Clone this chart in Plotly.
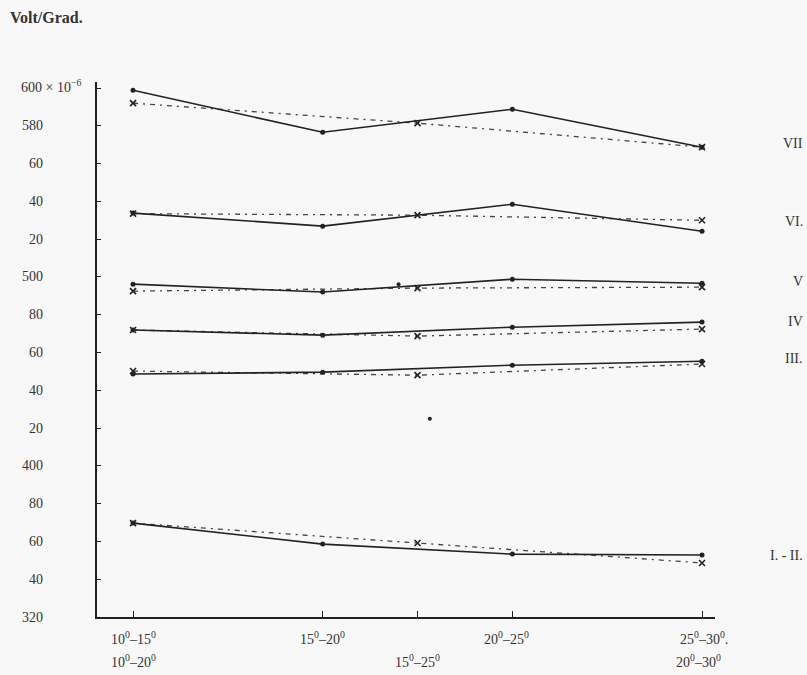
import plotly.graph_objects as go

# ---- data -------------------------------------------------------------
solid_pos = [0, 2, 4, 6]          # 10-15, 15-20, 20-25, 25-30
dashed_pos = [0, 3, 6]            # 10-20, 15-25, 20-30
solid_labels = ["10<sup>0</sup>–15<sup>0</sup>", "15<sup>0</sup>–20<sup>0</sup>",
                "20<sup>0</sup>–25<sup>0</sup>", "25<sup>0</sup>–30<sup>0</sup>."]
dashed_labels = ["10<sup>0</sup>–20<sup>0</sup>", "15<sup>0</sup>–25<sup>0</sup>",
                 "20<sup>0</sup>–30<sup>0</sup>"]

series_names = ["VII", "VI.", "V", "IV", "III.", "I. - II."]

vii_solid = [598.8, 576.6, 588.8, 568.7]
vii_dashed = [592.0, 581.4, 568.7]
vi_solid = [533.8, 526.9, 538.5, 524.2]
vi_dashed = [533.5, 532.7, 530.0]
v_solid = [496.2, 492.0, 498.8, 496.7]
v_dashed = [492.5, 494.1, 494.6]
iv_solid = [471.9, 469.2, 473.4, 476.1]
iv_dashed = [471.9, 468.7, 472.4]
iii_solid = [448.6, 449.6, 453.3, 455.4]
iii_dashed = [450.2, 448.0, 453.9]
i_ii_solid = [369.7, 358.6, 353.3, 352.8]
i_ii_dashed = [369.7, 359.2, 348.6]

stray_x = [2.8, 3.13]
stray_y = [496.2, 425.0]

y_tick_vals = list(range(320, 601, 20))
y_tick_text = ["320", "40", "60", "80", "400", "20", "40", "60", "80",
               "500", "20", "40", "60", "580", "600 × 10<sup>−6</sup>"]

solid_all = [vii_solid, vi_solid, v_solid, iv_solid, iii_solid, i_ii_solid]
dashed_all = [vii_dashed, vi_dashed, v_dashed, iv_dashed, iii_dashed, i_ii_dashed]

# ---- figure -----------------------------------------------------------
INK = "#222222"
TXT = "#333333"
FONT = "Liberation Serif"
FS = 14
fig = go.Figure()

for name, s, d in zip(series_names, solid_all, dashed_all):
    fig.add_trace(go.Scatter(
        x=dashed_pos, y=d, mode="lines+markers", name=name + " dashed",
        line=dict(color="#444444", width=1.3, dash="5px,5px,2px,5px"),
        marker=dict(symbol="x-thin", size=6, line=dict(color=INK, width=1.6)),
        showlegend=False, hoverinfo="skip"))
    fig.add_trace(go.Scatter(
        x=solid_pos, y=s, mode="lines+markers", name=name,
        line=dict(color=INK, width=1.6),
        marker=dict(symbol="circle", size=5, color=INK),
        showlegend=False, hoverinfo="skip"))

fig.add_trace(go.Scatter(x=stray_x, y=stray_y, mode="markers",
                         marker=dict(symbol="circle", size=4, color=INK),
                         showlegend=False, hoverinfo="skip"))

W, H = 807, 675
L, R, T, B = 97, 92, 82, 58
plot_w = W - L - R

annotations = []
# y tick labels
for v, t in zip(y_tick_vals, y_tick_text):
    if v == 600:
        annotations.append(dict(x=0, xref="paper", y=v, yref="y", text=t,
                                xanchor="left", xshift=-(L - 19), yshift=2,
                                showarrow=False,
                                font=dict(family=FONT, size=FS, color=TXT)))
    else:
        annotations.append(dict(x=0, xref="paper", y=v, yref="y", text=t,
                                xanchor="right", xshift=-(L - 45),
                                showarrow=False,
                                font=dict(family=FONT, size=FS, color=TXT)))
# x labels (two rows)
for p, t in zip(solid_pos, solid_labels):
    annotations.append(dict(x=p, xref="x", y=0, yref="paper", text=t,
                            yanchor="middle", yshift=-21, showarrow=False,
                            xshift=(-6 if p == 4 else (2 if p == 6 else 0)),
                            font=dict(family=FONT, size=FS, color=TXT)))
for p, t in zip(dashed_pos, dashed_labels):
    annotations.append(dict(x=p, xref="x", y=0, yref="paper", text=t,
                            yanchor="middle", yshift=-44, showarrow=False,
                            xshift=(-4 if p == 6 else 0),
                            font=dict(family=FONT, size=FS, color=TXT)))
# series labels on the right
for name, s, d in zip(series_names, solid_all, dashed_all):
    yv = (s[-1] + d[-1]) / 2
    annotations.append(dict(x=(805 - L) / plot_w, xref="paper", y=yv, yref="y",
                            text=name, xanchor="right", yshift=4,
                            showarrow=False,
                            font=dict(family=FONT, size=FS, color=TXT)))
# unit title
annotations.append(dict(x=-(L - 8) / plot_w, xref="paper",
                        y=1 + (T - 18) / (H - T - B), yref="paper",
                        text="<b>Volt/Grad.</b>", xanchor="left",
                        yanchor="middle", showarrow=False,
                        font=dict(family=FONT, size=16, color=TXT)))

fig.update_layout(
    width=W, height=H,
    margin=dict(l=L, r=R, t=T, b=B),
    paper_bgcolor="#f8f8f8", plot_bgcolor="#f8f8f8",
    annotations=annotations,
    xaxis=dict(range=[-0.38, 6.137], showgrid=False, zeroline=False,
               showline=True, linecolor=INK, linewidth=1.5,
               tickvals=solid_pos[:2] + [3] + solid_pos[2:], ticks="inside",
               ticklen=6, tickcolor=INK, tickwidth=1.2,
               showticklabels=False),
    yaxis=dict(range=[320, 603.2], showgrid=False, zeroline=False,
               showline=True, linecolor=INK, linewidth=1.5,
               tickvals=y_tick_vals, ticks="inside", ticklen=4,
               tickcolor=INK, tickwidth=1.2, showticklabels=False),
)

fig.write_html("out.html",
               config={"displayModeBar": False},
               post_script="document.body.style.margin='0';"
                           "document.body.style.background='#f8f8f8';")
